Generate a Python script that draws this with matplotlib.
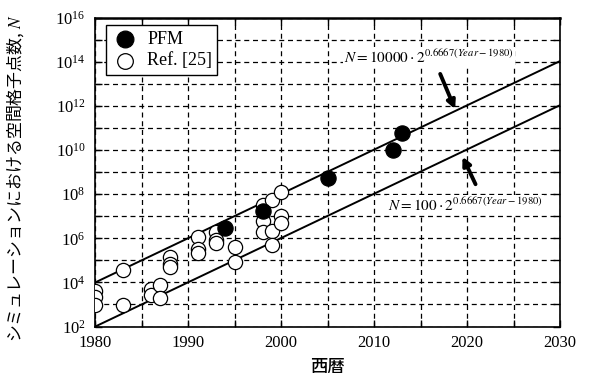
import numpy as np
import matplotlib.pyplot as plt
from matplotlib.ticker import FixedLocator, NullFormatter

# Data
pfm_year = [1994, 1998, 2005, 2012, 2013]
pfm_n = [3.0e6, 1.74e7, 5.2e8, 1.0e10, 6.2e10]

ref_year = [1980, 1980, 1980, 1983, 1983, 1986, 1986, 1987, 1987,
            1988, 1988, 1988, 1991, 1991, 1991, 1993, 1993, 1993,
            1995, 1995, 1998, 1998, 1998, 1999, 1999, 1999,
            2000, 2000, 2000]
ref_n = [4.0e3, 2.2e3, 9.3e2, 3.5e4, 9.3e2, 5.2e3, 2.6e3, 7.4e3, 1.9e3,
         1.45e5, 6.6e4, 4.8e4, 1.1e6, 3.2e5, 2.1e5, 1.9e6, 8.3e5, 5.9e5,
         4.2e5, 8.3e4, 3.2e7, 6.3e6, 2.0e6, 5.6e7, 2.2e6, 4.9e5,
         1.26e8, 1.0e7, 5.0e6]

# Trend lines N = c * 2^(0.6667 (Year - 1980))
trend_coef = [10000, 100]
trend_rate = 0.6667

plt.rcParams['font.family'] = ['Liberation Serif', 'DejaVu Serif']
plt.rcParams['mathtext.fontset'] = 'stix'

fig = plt.figure(figsize=(5.89, 3.76), dpi=100)
ax = fig.add_axes([0.1618, 0.1316, 0.7892, 0.8214])

years = np.array([1980, 2030])
for c in trend_coef:
    ax.plot(years, c * 2 ** (trend_rate * (years - 1980)), color='black', lw=1.4, zorder=2)

ax.scatter(ref_year, ref_n, s=105, facecolor='white', edgecolor='black',
           linewidths=0.9, zorder=3, label='Ref. [25]')
ax.scatter(pfm_year, pfm_n, s=120, facecolor='black', edgecolor='black',
           linewidths=0.9, zorder=4, label='PFM')

ax.set_yscale('log')
ax.set_xlim(1980, 2030)
ax.set_ylim(1e2, 1e16)

ax.xaxis.set_major_locator(FixedLocator(np.arange(1980, 2031, 10)))
ax.xaxis.set_minor_locator(FixedLocator(np.arange(1985, 2030, 10)))
ax.yaxis.set_major_locator(FixedLocator([10.0 ** k for k in range(2, 17, 2)]))
ax.yaxis.set_minor_locator(FixedLocator([10.0 ** k for k in range(3, 16, 2)]))
ax.yaxis.set_minor_formatter(NullFormatter())

ax.tick_params(which='both', direction='in', top=True, right=True, labelsize=12, width=1.0)
ax.tick_params(which='both', length=5)
ax.tick_params(axis='x', which='major', pad=6)
ax.tick_params(axis='y', which='major', pad=7)

ax.grid(True, which='both', color='black', linestyle=(0, (4, 3)), linewidth=0.9)
ax.set_axisbelow(True)

for side in ['left', 'right', 'bottom']:
    ax.spines[side].set_linewidth(1.2)
ax.spines['top'].set_linewidth(1.8)

# Legend with PFM first
handles, labels = ax.get_legend_handles_labels()
leg = ax.legend(handles[::-1], labels[::-1], loc='upper left', fontsize=13,
                frameon=True, fancybox=False, edgecolor='black', framealpha=1,
                borderpad=0.3, handletextpad=0.4, labelspacing=0.25,
                handlelength=1.6, borderaxespad=0.0, markerscale=1.1,
                bbox_to_anchor=(0.022, 0.975))
leg.get_frame().set_linewidth(1.0)

# Formula annotations
box = dict(facecolor='white', edgecolor='none', pad=1.0)
ax.text(2015.9, 10 ** 14.23, r'$N = 10000\cdot 2^{0.6667(\mathit{Year}-1980)}$',
        ha='center', va='center', fontsize=11, bbox=box, zorder=5)
ax.annotate('', xy=(2018.7, 10 ** 11.85), xytext=(2017.1, 10 ** 13.45),
            arrowprops=dict(arrowstyle='-|>', color='black', lw=2.8,
                            mutation_scale=12, shrinkA=0, shrinkB=0))
ax.text(2019.8, 10 ** 7.5, r'$N = 100\cdot 2^{0.6667(\mathit{Year}-1980)}$',
        ha='center', va='center', fontsize=11, bbox=box, zorder=5)
ax.annotate('', xy=(2019.5, 10 ** 9.7), xytext=(2020.9, 10 ** 8.45),
            arrowprops=dict(arrowstyle='-|>', color='black', lw=2.8,
                            mutation_scale=12, shrinkA=0, shrinkB=0))

ax.set_xlabel('西暦', family=['Noto Sans CJK JP', 'DejaVu Sans'], fontsize=12.5,
              fontweight='medium', labelpad=5)
ax.set_ylabel('シミュレーションにおける空間格子点数, $N$',
              family=['Noto Sans CJK JP', 'DejaVu Sans'], fontsize=12.2)
ax.yaxis.set_label_coords(-0.15, 0.48)

fig.savefig('out.png', dpi=100)
